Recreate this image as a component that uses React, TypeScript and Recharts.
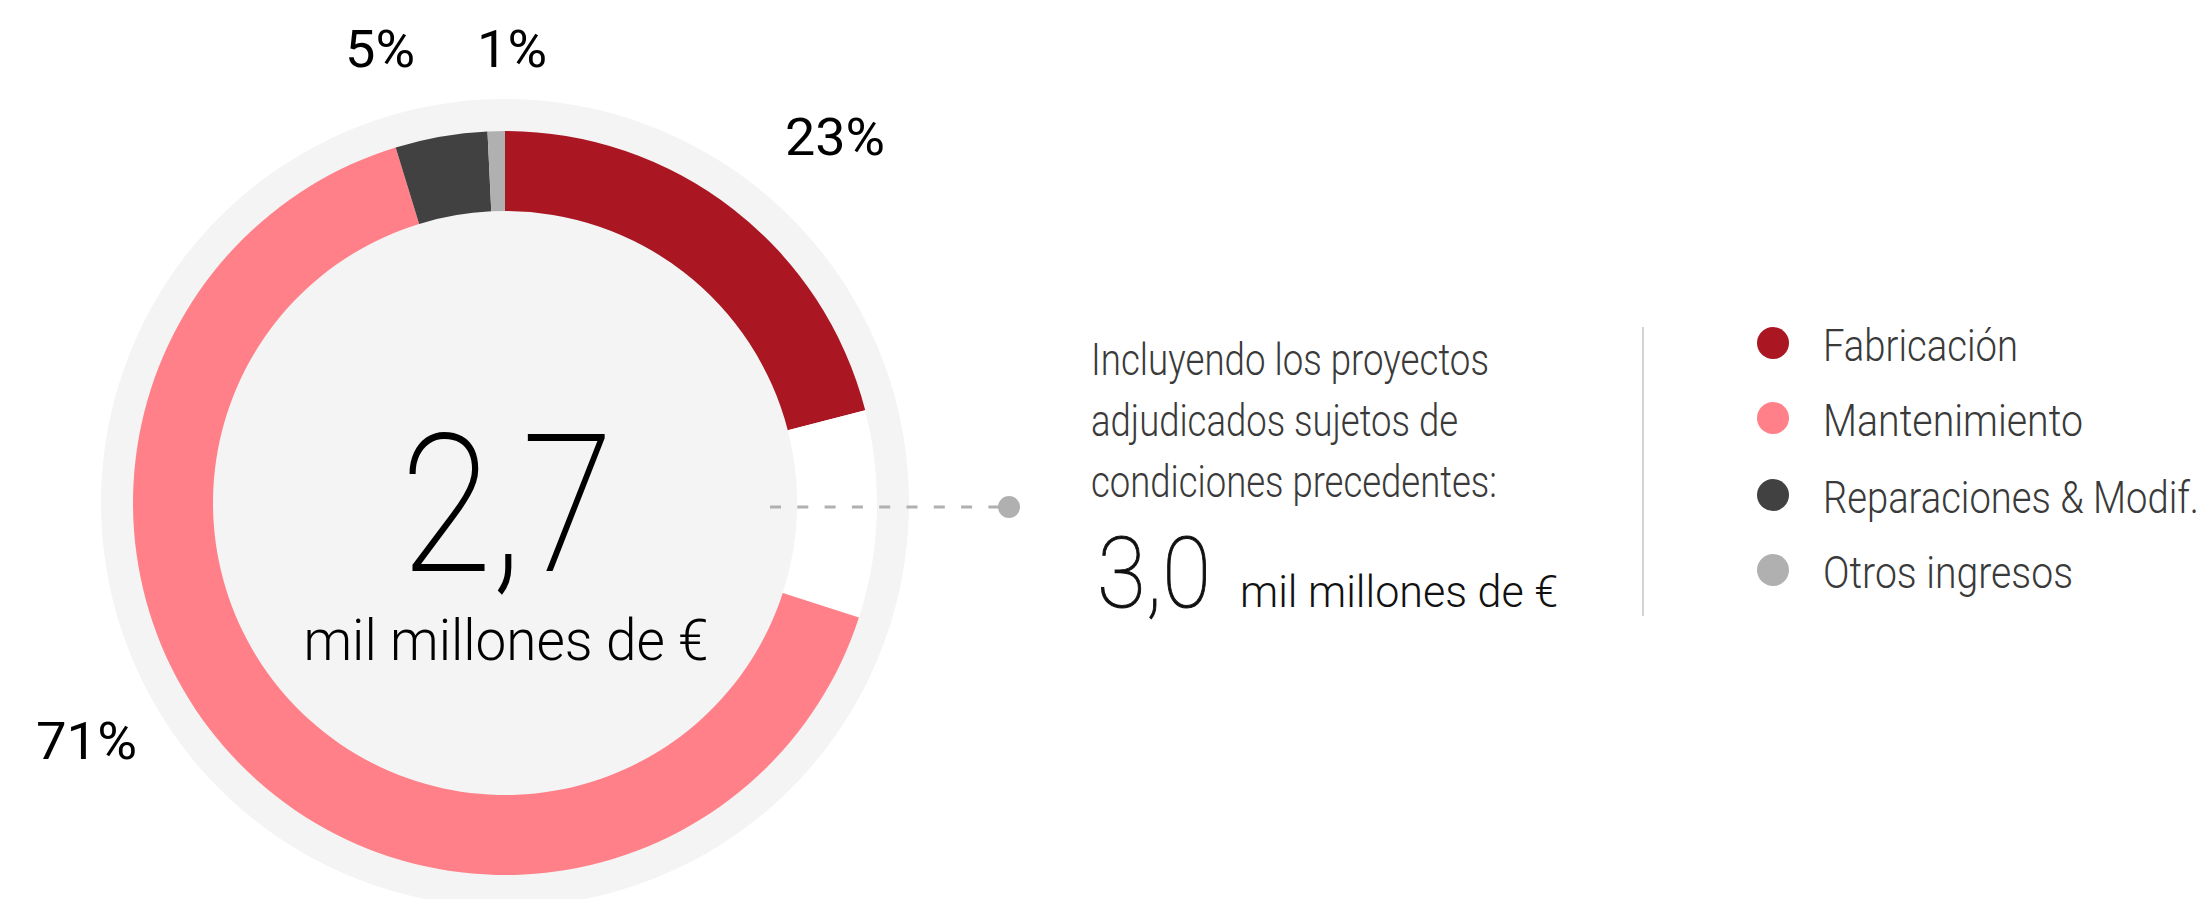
import { PieChart, Pie, Cell } from "recharts";

const W = 2209;
const H = 899;
const CX = 505;
const CY = 503;

const CATEGORIES = ["Fabricación", "Mantenimiento", "Reparaciones & Modif.", "Otros ingresos"];
const COLORS = ["#aa1622", "#ff8088", "#414141", "#b0b0b0"];
// share of the full ring each segment covers
const RING_SHARES = [21.0, 65.3, 4.0, 0.75];
// part of the ring left open (projects subject to conditions)
const PENDING_SHARE = 9.0;
const PCT_LABELS = ["23%", "71%", "5%", "1%"];

const TOTAL = "2,7";
const TOTAL_WITH_PENDING = "3,0";
const UNIT = "mil millones de €";
const NOTE_LINES = ["Incluyendo los proyectos", "adjudicados sujetos de", "condiciones precedentes:"];

const ringData = [
  { name: CATEGORIES[0], value: RING_SHARES[0], fill: COLORS[0] },
  { name: "pendiente", value: PENDING_SHARE, fill: "#ffffff" },
  ...CATEGORIES.slice(1).map((name, i) => ({ name, value: RING_SHARES[i + 1], fill: COLORS[i + 1] })),
];

const FONT = "Roboto, 'Open Sans', sans-serif";

// where each percentage sits (x, baseline, width)
const LABEL_POS = [
  { x: 785, y: 155, w: 100 },
  { x: 36, y: 759, w: 101 },
  { x: 345, y: 67, w: 70 },
  { x: 477, y: 67, w: 70 },
];
const NOTE_WIDTHS = [398, 367, 406];
const LEGEND_WIDTHS = [195, 260, 376, 250];
const LEGEND_Y = [343, 418, 495, 570];

export default function App() {
  return (
    <div style={{ position: "absolute", left: 0, top: 0, width: W, height: H, background: "#fff" }}>
      <PieChart width={W} height={H} margin={{ top: 0, right: 0, bottom: 0, left: 0 }}>
        <Pie
          data={[{ name: "fondo", value: 1 }]}
          dataKey="value"
          cx={CX}
          cy={CY}
          innerRadius={0}
          outerRadius={404}
          fill="#f4f4f4"
          stroke="none"
          isAnimationActive={false}
        />
        <Pie
          data={ringData}
          dataKey="value"
          cx={CX}
          cy={CY}
          innerRadius={292}
          outerRadius={372}
          startAngle={90}
          endAngle={-270}
          stroke="none"
          isAnimationActive={false}
        >
          {ringData.map((d) => (
            <Cell key={d.name} fill={d.fill} />
          ))}
        </Pie>
      </PieChart>

      <svg
        width={W}
        height={H}
        style={{ position: "absolute", left: 0, top: 0, pointerEvents: "none" }}
        fontFamily={FONT}
      >
        {/* centre total */}
        <text x={CX + 2} y={570} fontSize={190} fontWeight={100} textAnchor="middle" fill="#000"
          stroke="#000" strokeWidth={2} textLength={212} lengthAdjust="spacingAndGlyphs">
          {TOTAL}
        </text>
        <text x={CX + 1} y={660} fontSize={58} fontWeight={300} textAnchor="middle" fill="#000"
          textLength={405} lengthAdjust="spacingAndGlyphs">
          {UNIT}
        </text>

        {/* percentages */}
        {PCT_LABELS.map((t, i) => (
          <text key={t} x={LABEL_POS[i].x} y={LABEL_POS[i].y} fontSize={52} fill="#000"
            textLength={LABEL_POS[i].w} lengthAdjust="spacingAndGlyphs">
            {t}
          </text>
        ))}

        {/* leader to the note */}
        <line x1={770} y1={507} x2={1000} y2={507} stroke="#b0b0b0" strokeWidth={3} strokeDasharray="11 16.3" />
        <circle cx={1009} cy={507} r={11} fill="#b0b0b0" />

        {NOTE_LINES.map((t, i) => (
          <text key={t} x={1091} y={375 + i * 61} fontSize={44} fontWeight={300} fill="#3a3a3a"
            textLength={NOTE_WIDTHS[i]} lengthAdjust="spacingAndGlyphs">
            {t}
          </text>
        ))}
        <text x={1097} y={607} fontSize={98} fontWeight={100} fill="#111" stroke="#111" strokeWidth={1}
          textLength={114} lengthAdjust="spacingAndGlyphs">
          {TOTAL_WITH_PENDING}
        </text>
        <text x={1240} y={607} fontSize={44} fontWeight={300} fill="#111"
          textLength={318} lengthAdjust="spacingAndGlyphs">
          {UNIT}
        </text>

        <line x1={1643} y1={327} x2={1643} y2={616} stroke="#c4c4c4" strokeWidth={1.5} />

        {/* legend */}
        {CATEGORIES.map((c, i) => (
          <g key={c}>
            <circle cx={1773} cy={LEGEND_Y[i]} r={16} fill={COLORS[i]} />
            <text x={1823} y={LEGEND_Y[i] + 18} fontSize={44} fontWeight={300} fill="#3a3a3a"
              textLength={LEGEND_WIDTHS[i]} lengthAdjust="spacingAndGlyphs">
              {c}
            </text>
          </g>
        ))}
      </svg>
    </div>
  );
}
